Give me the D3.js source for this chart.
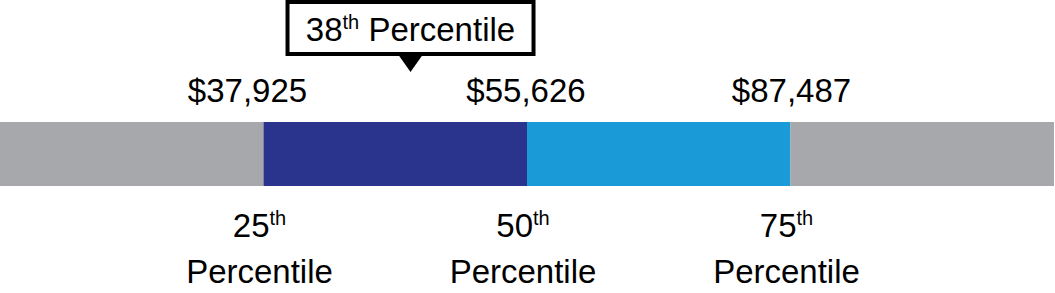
<!DOCTYPE html>
<html>
<head>
<meta charset="utf-8">
<style>
	html, body { margin: 0; padding: 0; background: #fff; }
	svg { display: block; }
	text { font-family: "Liberation Sans", Arial, sans-serif; fill: #000; }
</style>
<script src="https://cdn.jsdelivr.net/npm/d3@7/dist/d3.min.js"></script>
</head>
<body>
<svg id="chart" width="1055" height="293"></svg>
<script>
/*jshint browser:true, strict:true, undef:true, unused:true, curly:true, indent:4 */

// band boundaries, in percentiles
var bandStart = [0, 25, 50, 75];
var bandEnd = [25, 50, 75, 100];
var bandColor = ["#a7a8ab", "#2a348c", "#1a9bd7", "#a7a8ab"];

// salary at each marked percentile
var markPct = [25, 50, 75];
var markValue = ["$37,925", "$55,626", "$87,487"];
var markOrdinal = ["25", "50", "75"];

// where this salary lands
var youPct = 38;

(function () {
	"use strict";

	var svg = d3.select("#chart"),
		x = d3.scaleLinear().domain([0, 100]).range([0, 1054]),
		barTop = 122,
		barHeight = 64,
		fontSize = 33,
		supSize = 20,
		valueNudge = [-16, -1, 1],

	/**
	 * Append "NNth" style text, superscript via tspan
	 * @param  {Object} sel  d3 text selection
	 * @param  {String} num  the number part
	 * @return {Void}
	 */
	ordinal = function (sel, num) {
		sel.append("tspan").text(num);
		sel.append("tspan")
			.attr("dy", -12)
			.attr("font-size", supSize)
			.text("th");
	},

	/**
	 * The four coloured bands
	 * @return {Void}
	 */
	drawBar = function () {
		svg.append("g").attr("class", "bands")
			.selectAll("rect")
			.data(bandStart)
			.join("rect")
			.attr("x", function (d) { return x(d); })
			.attr("y", barTop)
			.attr("width", function (d, i) { return x(bandEnd[i]) - x(d); })
			.attr("height", barHeight)
			.attr("fill", function (d, i) { return bandColor[i]; });
	},

	/**
	 * Salary labels above and percentile labels below
	 * @return {Void}
	 */
	drawLabels = function () {
		svg.append("g").selectAll("text")
			.data(markValue)
			.join("text")
			.attr("x", function (d, i) { return x(markPct[i]) + valueNudge[i]; })
			.attr("y", 102)
			.attr("text-anchor", "middle")
			.attr("font-size", fontSize)
			.text(function (d) { return d; });

		var below = svg.append("g").selectAll("g")
			.data(markPct)
			.join("g")
			.attr("transform", function (d) { return "translate(" + (x(d) - 4) + ",0)"; });

		below.append("text")
			.attr("y", 237)
			.attr("text-anchor", "middle")
			.attr("font-size", fontSize)
			.each(function (d, i) { ordinal(d3.select(this), markOrdinal[i]); });

		below.append("text")
			.attr("y", 283)
			.attr("text-anchor", "middle")
			.attr("font-size", fontSize)
			.text("Percentile");
	},

	/**
	 * Callout box pointing at this salary's percentile
	 * @return {Void}
	 */
	drawCallout = function () {
		var cx = x(youPct) + 10,
			g = svg.append("g").attr("class", "callout");

		g.append("rect")
			.attr("x", cx - 123)
			.attr("y", 2)
			.attr("width", 246)
			.attr("height", 52)
			.attr("fill", "#fff")
			.attr("stroke", "#000")
			.attr("stroke-width", 4);

		g.append("path")
			.attr("d", d3.line()([[cx - 12, 55], [cx + 12, 55], [cx, 72]]) + "Z")
			.attr("fill", "#000");

		var t = g.append("text")
			.attr("x", cx)
			.attr("y", 41)
			.attr("text-anchor", "middle")
			.attr("font-size", fontSize);
		ordinal(t, String(youPct));
		t.append("tspan").attr("dy", 12).text(" Percentile");
	};

	drawBar();
	drawLabels();
	drawCallout();
}());
</script>
</body>
</html>
